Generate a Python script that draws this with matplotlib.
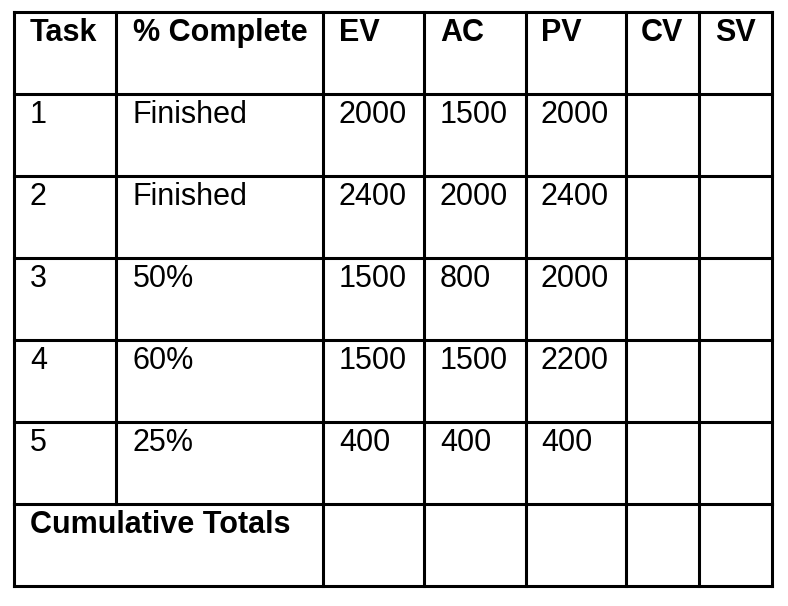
import matplotlib.pyplot as plt

headers = ["Task", "% Complete", "EV", "AC", "PV", "CV", "SV"]
tasks = ["1", "2", "3", "4", "5"]
complete = ["Finished", "Finished", "50%", "60%", "25%"]
ev = ["2000", "2400", "1500", "1500", "400"]
ac = ["1500", "2000", "800", "1500", "400"]
pv = ["2000", "2400", "2000", "2200", "400"]
footer = "Cumulative Totals"

col_x = [14, 116, 323, 424, 526, 626, 699, 772]
row_y = [12, 94, 176, 258, 340, 422, 504, 586]

fig = plt.figure(figsize=(7.88, 6.06), dpi=100)
ax = fig.add_axes([0, 0, 1, 1])
ax.set_xlim(0, 788)
ax.set_ylim(606, 0)
ax.axis("off")

font = ["Liberation Sans", "DejaVu Sans"]
fs = 22

# grid lines
for i, x in enumerate(col_x):
    # last row only splits after the merged first two columns
    ax.plot([x, x], [row_y[0], row_y[-2]], color="black", lw=2.2, solid_capstyle="projecting")
    if i == 0 or i >= 2:
        ax.plot([x, x], [row_y[-2], row_y[-1]], color="black", lw=2.2, solid_capstyle="projecting")
for y in row_y:
    ax.plot([col_x[0], col_x[-1]], [y, y], color="black", lw=2.2, solid_capstyle="projecting")

pad_x = [16, 17, 16, 16, 15, 15, 16]
for j, h in enumerate(headers):
    ax.text(col_x[j] + pad_x[j], row_y[0] + 21, h, fontsize=fs, fontweight="bold",
            family=font, va="center", ha="left")

for i in range(len(tasks)):
    y = row_y[i + 1] + 21
    vals = [tasks[i], complete[i], ev[i], ac[i], pv[i]]
    for j, v in enumerate(vals):
        ax.text(col_x[j] + pad_x[j], y, v, fontsize=fs, family=font, va="center", ha="left")

ax.text(col_x[0] + 16, row_y[-2] + 21, footer, fontsize=fs, fontweight="bold",
        family=font, va="center", ha="left")

plt.savefig("out.png", dpi=100)
plt.close()
